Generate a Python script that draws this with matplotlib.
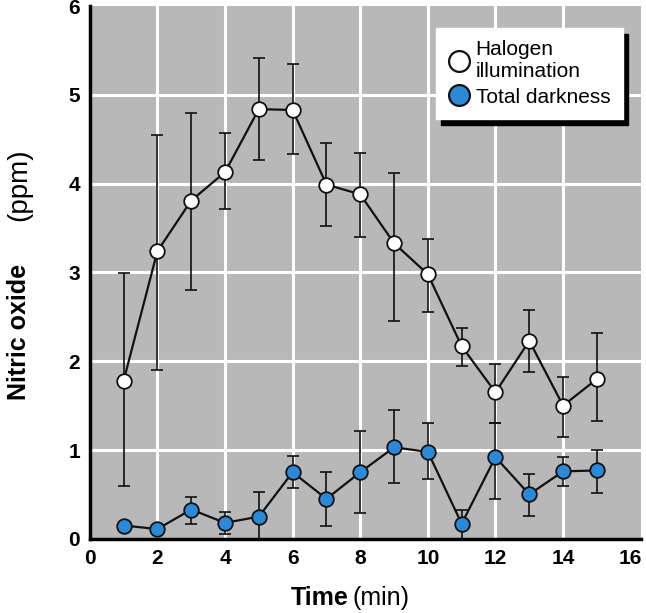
import matplotlib
matplotlib.use("Agg")
import matplotlib.pyplot as plt
import numpy as np

plt.rcParams['font.family'] = ['Liberation Sans', 'DejaVu Sans']

### data
time_min = [1, 2, 3, 4, 5, 6, 7, 8, 9, 10, 11, 12, 13, 14, 15]

halogen = [1.78, 3.24, 3.81, 4.13, 4.84, 4.83, 3.99, 3.88, 3.33, 2.98, 2.17, 1.65, 2.23, 1.50, 1.80]
halogen_lo = [0.60, 1.90, 2.80, 3.72, 4.27, 4.33, 3.52, 3.40, 2.45, 2.55, 1.95, 1.30, 1.88, 1.15, 1.33]
halogen_hi = [2.99, 4.55, 4.80, 4.57, 5.42, 5.35, 4.46, 4.35, 4.12, 3.38, 2.38, 1.97, 2.58, 1.82, 2.32]

dark = [0.15, 0.11, 0.33, 0.18, 0.25, 0.75, 0.45, 0.75, 1.03, 0.98, 0.17, 0.92, 0.50, 0.76, 0.77]
dark_lo = [0.15, 0.11, 0.17, 0.05, 0.00, 0.57, 0.15, 0.29, 0.63, 0.67, 0.00, 0.45, 0.26, 0.60, 0.52]
dark_hi = [0.15, 0.11, 0.47, 0.30, 0.53, 0.93, 0.75, 1.22, 1.45, 1.30, 0.33, 1.31, 0.73, 0.92, 1.00]

xticks = [0, 2, 4, 6, 8, 10, 12, 14, 16]
yticks = [0, 1, 2, 3, 4, 5, 6]

bg_gray = '#b8b8b8'
blue = '#2a8ad8'

fig = plt.figure(figsize=(6.46, 6.13), dpi=100)
ax = fig.add_axes([0.139, 0.121, 0.853, 0.869])
ax.set_facecolor(bg_gray)

ax.set_xlim(0, 16.3)
ax.set_ylim(0, 6)
ax.set_xticks(xticks)
ax.set_yticks(yticks)
ax.tick_params(axis='both', length=0, labelsize=15, pad=7)
for lab in ax.get_xticklabels() + ax.get_yticklabels():
    lab.set_fontweight('bold')

### white grid only on the inner ticks
for v in xticks[1:-1]:
    ax.axvline(v, color='white', linewidth=2.2, zorder=0.5)
for v in yticks[1:-1]:
    ax.axhline(v, color='white', linewidth=2.2, zorder=0.5)

for s in ['top', 'right']:
    ax.spines[s].set_visible(False)
ax.spines['left'].set_linewidth(2.5)
ax.spines['bottom'].set_linewidth(2.5)

### error bars
h = np.array(halogen)
d = np.array(dark)
h_err = [h - np.array(halogen_lo), np.array(halogen_hi) - h]
d_err = [d - np.array(dark_lo), np.array(dark_hi) - d]

ax.errorbar(time_min, halogen, yerr=h_err, fmt='none', ecolor='#111111',
            elinewidth=1.2, capsize=4.5, capthick=1.2, zorder=2)
ax.errorbar(time_min, dark, yerr=d_err, fmt='none', ecolor='#111111',
            elinewidth=1.2, capsize=4.5, capthick=1.2, zorder=2)

l1, = ax.plot(time_min, halogen, '-o', color='#111111', linewidth=1.6,
              markersize=10.5, markerfacecolor='white', markeredgecolor='#111111',
              markeredgewidth=1.3, zorder=3, label='Halogen\nillumination')
l2, = ax.plot(time_min, dark, '-o', color='#111111', linewidth=1.6,
              markersize=10.5, markerfacecolor=blue, markeredgecolor='#111111',
              markeredgewidth=1.3, zorder=3, label='Total darkness')

### legend with black drop shadow
leg = ax.legend(handles=[l1, l2], loc='upper right', bbox_to_anchor=(0.967, 0.959),
                borderaxespad=0, prop={'size': 15}, handlelength=1.0, handletextpad=0.3,
                labelspacing=0.3, borderpad=0.6, fancybox=False,
                frameon=True, framealpha=1, edgecolor='white',
                shadow={'color': 'black', 'alpha': 1, 'ox': 4, 'oy': -4})
for hnd in leg.legend_handles:
    hnd.set_linestyle('none')
    hnd.set_markersize(15)
    hnd.set_markeredgewidth(1.6)

### axis labels, bold + regular parts
fig.text(0.030, 1 - 400 / 613, 'Nitric oxide', rotation=90, ha='center', va='bottom',
         fontsize=18, fontweight='bold')
fig.text(0.030, 1 - 148 / 613, '(ppm)', rotation=90, ha='center', va='top',
         fontsize=20)
fig.text(349 / 646, 1 - 598 / 613, 'Time', ha='right', va='center',
         fontsize=18, fontweight='bold')
fig.text(353 / 646, 1 - 598 / 613, '(min)', ha='left', va='center',
         fontsize=18)

plt.savefig('out.png', dpi=100)
